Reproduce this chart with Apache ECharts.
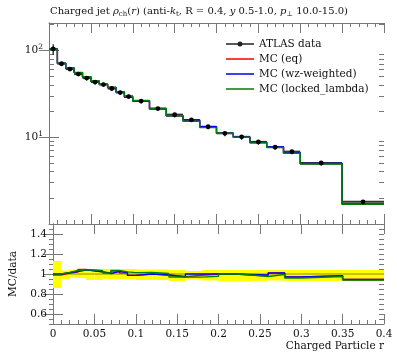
<!DOCTYPE html>
<html><head><meta charset="utf-8">
<script src="https://cdn.jsdelivr.net/npm/echarts@6/dist/echarts.min.js"></script>
<style>html,body{margin:0;padding:0;background:#fff}#c{width:397px;height:358px}</style>
</head><body><div id="c"></div>
<script>
// ---- data ----
const edges = [0,0.01,0.02,0.03,0.04,0.05,0.06,0.07,0.08,0.09,0.1,0.12,0.14,0.16,0.18,0.2,0.22,0.24,0.26,0.28,0.3,0.35,0.4];
const dataVals = [104,70.2,61.0,53.4,48.0,43.2,40.4,36.4,32.7,29.4,26.1,21.4,18.2,15.8,13.2,11.1,10.1,8.83,7.67,6.82,5.05,1.80];
const errUp   = [0.13,0.035,0.043,0.043,0.043,0.043,0.05,0.05,0.05,0.05,0.045,0.045,0.04,0.03,0.04,0.04,0.04,0.04,0.04,0.04,0.04,0.04];
const errDown = [0.14,0.053,0.037,0.04,0.06,0.06,0.05,0.05,0.05,0.05,0.06,0.06,0.07,0.055,0.065,0.075,0.075,0.07,0.065,0.07,0.07,0.07];
const mcEq = [103.0,70.9,62.2,55.8,49.4,44.1,40.8,37.5,33.0,29.0,26.1,21.2,17.7,15.6,13.2,11.1,10.0,8.65,7.75,6.62,4.95,1.70];
const mcWz = [104.0,71.1,62.5,55.5,49.7,44.1,40.6,37.3,33.2,29.0,26.1,21.2,17.7,15.8,13.2,11.1,10.05,8.74,7.75,6.62,4.97,1.70];
const mcLL = [104.0,71.3,63.1,55.5,49.9,44.7,40.8,37.7,33.4,29.8,26.5,21.5,17.65,15.3,12.9,11.1,10.0,8.61,7.63,6.55,4.92,1.69];
const logMajorTicks = [10, 100];
const logMinorTicks = [2,3,4,5,6,7,8,9,20,30,40,50,60,70,80,90,200];
const ratioMajorTicks = [0.6, 0.8, 1, 1.2, 1.4];
const seriesNames = ['MC (eq)', 'MC (wz-weighted)', 'MC (locked_lambda)'];
const seriesColors = ['#ff0000', '#0000ff', '#008000'];

// ---- helpers ----
const FONT = 'DejaVu Serif';
const TXT = '#111';
const AX = '#777';
function stepData(vals){ return edges.map((e,i)=>[e, vals[Math.min(i, vals.length-1)]]); }
function ratioVals(vals){ return vals.map((v,i)=> v / dataVals[i]); }
const mcSets = [mcEq, mcWz, mcLL];

const chart = echarts.init(document.getElementById('c'), null, {renderer:'canvas'});
const G = {left:49, right:13};
const grids = [
  {left:G.left, right:G.right, top:23, height:201},
  {left:G.left, right:G.right, top:23, height:201},
  {left:G.left, right:G.right, top:224, height:100},
  {left:G.left, right:G.right, top:224, height:100}
];
const axLine = {show:true, lineStyle:{color:AX, width:1}};
function xAx(grid, pos, opts){
  return Object.assign({type:'value', gridIndex:grid, position:pos, min:0, max:0.4, interval:0.05,
    axisLine:axLine, splitLine:{show:false},
    axisTick:{show:true, inside:true, length:10, lineStyle:{color:AX}},
    minorTick:{show:true, splitNumber:5, length:4, lineStyle:{color:AX}},
    axisLabel:{show:false}}, opts||{});
}
const xAxes = [
  xAx(0,'bottom'),
  xAx(0,'top',{minorTick:{show:true, splitNumber:5, length:4, lineStyle:{color:AX}}}),
  xAx(1,'bottom',{show:false}),
  xAx(2,'bottom',{axisLabel:{show:true, margin:5, fontFamily:FONT, fontSize:10.5, color:TXT}}),
  xAx(2,'top',{minorTick:{show:false}}),
  xAx(3,'bottom',{show:false})
];
function logAx(grid,pos,ticks,len,labels){
  return {type:'log', gridIndex:grid, position:pos, min:1, max:207, logBase:10,
    axisLine: labels!==null && len===10 ? axLine : {show:false},
    splitLine:{show:false},
    axisTick:{show:true, inside:true, length:len, customValues:ticks, lineStyle:{color:AX}},
    minorTick:{show:false},
    axisLabel: labels ? {show:true, customValues:labels, margin:6, fontFamily:FONT, color:TXT,
      formatter:(v)=>'{b|10}{s|'+Math.round(Math.log10(v))+'}',
      rich:{b:{fontFamily:FONT, fontSize:10.5, lineHeight:14, color:TXT},
            s:{fontFamily:FONT, fontSize:7.5, lineHeight:8, verticalAlign:'top', color:TXT}}} : {show:false}};
}
function ratioAx(grid,pos,major,withLabel){
  const o = {type:'value', gridIndex:grid, position:pos, min:0.5, max:1.5, splitLine:{show:false}, minorTick:{show:false}};
  if (major){
    o.interval = 0.1;
    o.axisLine = axLine;
    o.axisTick = {show:true, inside:true, length:10, customValues:ratioMajorTicks, lineStyle:{color:AX}};
    o.axisLabel = withLabel ? {show:true, customValues:ratioMajorTicks, margin:6, fontFamily:FONT, fontSize:10.5, color:TXT} : {show:false};
    if (withLabel){
      o.name = 'MC/data'; o.nameLocation = 'middle'; o.nameRotate = 90; o.nameGap = 34;
      o.nameTextStyle = {fontFamily:FONT, fontSize:10.5, color:TXT};
    }
  } else {
    o.interval = 0.05;
    o.axisLine = {show:false};
    o.axisTick = {show:true, inside:true, length:5, lineStyle:{color:AX}};
    o.axisLabel = {show:false};
  }
  return o;
}
const yAxes = [
  logAx(0,'left',logMajorTicks,10,logMajorTicks),
  logAx(0,'right',logMajorTicks,10,false),
  logAx(1,'left',logMinorTicks,5,null),
  logAx(1,'right',logMinorTicks,5,null),
  ratioAx(2,'left',true,true),
  ratioAx(2,'right',true,false),
  ratioAx(3,'left',false),
  ratioAx(3,'right',false)
];

const binItems = dataVals.map((v,i)=>[edges[i], edges[i+1], v, v*(1-errDown[i]), v*(1+errUp[i])]);
const bandItems = dataVals.map((v,i)=>[edges[i], edges[i+1], 1-errDown[i], 1+errUp[i]]);

const series = [];
series.push({type:'custom', name:'band', xAxisIndex:3, yAxisIndex:4, z:1, silent:true,
  data:bandItems, encode:{x:[0,1], y:[2,3]},
  renderItem:(p,api)=>{
    const a = api.coord([api.value(0), api.value(3)]);
    const b = api.coord([api.value(1), api.value(2)]);
    return {type:'rect', shape:{x:a[0], y:a[1], width:b[0]-a[0], height:b[1]-a[1]}, style:{fill:'#ffff00'}};
  }});
series.push({type:'line', name:'dataratio', xAxisIndex:3, yAxisIndex:4, z:2, step:'end', symbol:'none', silent:true,
  data: stepData(ratioVals(dataVals)), lineStyle:{color:'rgba(60,60,0,0.6)', width:1}});
series.push({type:'custom', name:'ATLAS data', xAxisIndex:0, yAxisIndex:0, z:2, silent:true,
  itemStyle:{color:'#222'},
  data:binItems, encode:{x:[0,1], y:2},
  renderItem:(p,api)=>{
    const a = api.coord([api.value(0), api.value(2)]);
    const b = api.coord([api.value(1), api.value(2)]);
    return {type:'line', shape:{x1:a[0], y1:a[1], x2:b[0], y2:b[1]}, style:{stroke:'#333', lineWidth:2}};
  }});
mcSets.forEach((vals,k)=>{
  series.push({type:'line', name:seriesNames[k], xAxisIndex:0, yAxisIndex:0, z:3+k, step:'end', symbol:'none',
    data: stepData(vals), lineStyle:{color:seriesColors[k], width:1.4}, itemStyle:{color:seriesColors[k]}});
  series.push({type:'line', name:seriesNames[k], xAxisIndex:3, yAxisIndex:4, z:3+k, step:'end', symbol:'none',
    data: stepData(ratioVals(vals)), lineStyle:{color:seriesColors[k], width:1.4}, itemStyle:{color:seriesColors[k]}});
});
series.push({type:'custom', name:'ATLAS data', xAxisIndex:0, yAxisIndex:0, z:10, silent:true,
  itemStyle:{color:'#222'},
  data:binItems, encode:{x:[0,1], y:[2,3,4]},
  renderItem:(p,api)=>{
    const xc = (api.value(0)+api.value(1))/2;
    const c = api.coord([xc, api.value(2)]);
    const lo = api.coord([xc, api.value(3)]);
    const hi = api.coord([xc, api.value(4)]);
    return {type:'group', children:[
      {type:'line', shape:{x1:lo[0], y1:lo[1], x2:hi[0], y2:hi[1]}, style:{stroke:'#111', lineWidth:1.2}},
      {type:'circle', shape:{cx:c[0], cy:c[1], r:2.4}, style:{fill:'#000'}}
    ]};
  }});

const lineIcon = 'path://M0,0.5L28,0.5L28,0.5Z M0,2.2L28,2.2L28,3.8L0,3.8Z M0,5.5L28,5.5L28,5.5Z';
const dataIcon = 'path://M0,2.2L11.6,2.2L11.6,3.8L0,3.8Z M16.4,2.2L28,2.2L28,3.8L16.4,3.8Z M14,0.5A2.5,2.5,0,1,1,14,5.5A2.5,2.5,0,1,1,14,0.5Z';
chart.setOption({
  animation:false,
  backgroundColor:'#fff',
  title:[{
    left:50, top:4, padding:0,
    text:'{n|Charged jet }{i|ρ}{sub|ch}{n|(}{i|r}{n|) (anti-}{i|k}{sub|t}{n|, R = 0.4, }{i|y}{n| 0.5-1.0, }{i|p}{sub|⊥}{n| 10.0-15.0)}',
    textStyle:{fontWeight:'normal', rich:{
      n:{fontFamily:FONT, fontWeight:'normal', fontSize:10, lineHeight:14, color:TXT},
      i:{fontFamily:FONT, fontWeight:'normal', fontStyle:'italic', fontSize:10, lineHeight:14, color:TXT},
      sub:{fontFamily:FONT, fontWeight:'normal', fontSize:7, lineHeight:8, verticalAlign:'bottom', color:TXT}
    }}
  }],
  graphic:[{type:'text', right:13, top:341, style:{text:'Charged Particle r', font:'10.5px "DejaVu Serif"', fill:TXT}}],
  legend:{
    orient:'vertical', left:226, top:38, itemWidth:28, itemHeight:5, itemGap:3, padding:0,
    textStyle:{fontFamily:FONT, fontSize:10.5, lineHeight:12, color:TXT},
    data:[{name:'ATLAS data', icon:dataIcon},
          ...seriesNames.map(n=>({name:n, icon:lineIcon}))],
    selectedMode:false
  },
  grid:grids,
  xAxis:xAxes,
  yAxis:yAxes,
  series:series
});
</script></body></html>
